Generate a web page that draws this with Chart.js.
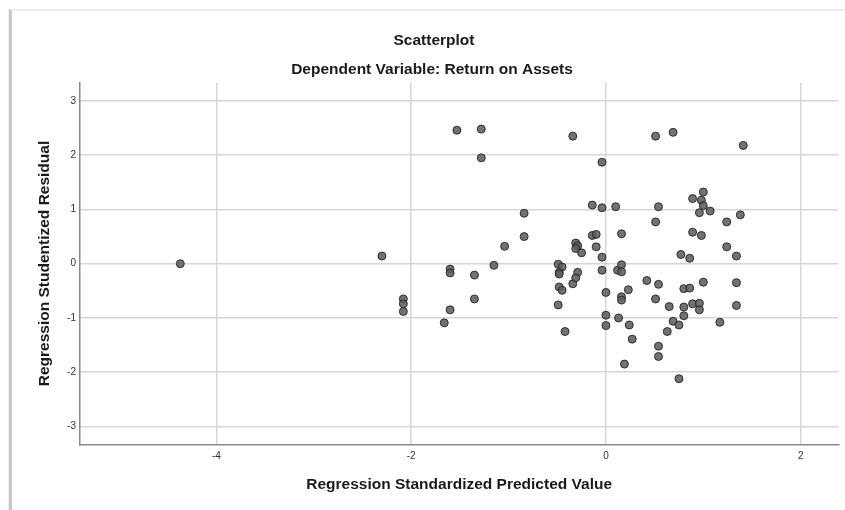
<!DOCTYPE html>
<html>
<head>
<meta charset="utf-8">
<script src="https://cdn.jsdelivr.net/npm/chart.js@4"></script>
<style>
  html, body { margin: 0; padding: 0; background: #ffffff; }
  #wrap { position: relative; width: 845px; height: 510px; overflow: hidden; background: #fff; }
  #frame { position: absolute; left: 9px; top: 9px; right: -5px; bottom: -5px;
           border-left: 3px solid #c8c8c8; border-top: 2px solid #ececec;
           box-shadow: -1px 0 1px rgba(0,0,0,0.06); pointer-events: none; }
  canvas { position: absolute; left: 0; top: 0; }
</style>
</head>
<body>
<div id="wrap">
  <canvas id="c" width="845" height="510"></canvas>
  <div id="frame"></div>
</div>
<script>
const chartTitle = "Scatterplot";
const chartSubtitle = "Dependent Variable: Return on Assets";
const xAxisTitle = "Regression Standardized Predicted Value";
const yAxisTitle = "Regression Studentized Residual";

const xTicks = [-4, -2, 0, 2];
const yTicks = [-3, -2, -1, 0, 1, 2, 3];

const predictedValue = [
  -4.37, -2.30, -2.08, -2.08, -2.08, -1.66, -1.60, -1.60, -1.60, -1.53,
  -1.35, -1.35, -1.28, -1.28, -1.15, -1.04, -0.84, -0.84, -0.49, -0.45,
  -0.48, -0.48, -0.48, -0.45, -0.49, -0.42, -0.34, -0.34, -0.31, -0.29,
  -0.31, -0.25, -0.29, -0.31, -0.14, -0.14, -0.10, -0.10, -0.04, -0.04,
  -0.04, -0.04, 0.00, 0.00, 0.00, 0.10, 0.12, 0.13, 0.16, 0.16,
  0.16, 0.16, 0.16, 0.19, 0.23, 0.24, 0.27, 0.42, 0.51, 0.51,
  0.51, 0.54, 0.54, 0.54, 0.54, 0.63, 0.65, 0.69, 0.69, 0.75,
  0.75, 0.77, 0.80, 0.80, 0.80, 0.86, 0.86, 0.89, 0.89, 0.89,
  0.96, 0.96, 0.96, 0.98, 0.98, 1.00, 1.00, 1.00, 1.07, 1.17,
  1.24, 1.24, 1.34, 1.34, 1.34, 1.38, 1.41
];
const studentizedResidual = [
  0.00, 0.14, -0.65, -0.74, -0.88, -1.09, -0.10, -0.17, -0.85, 2.46,
  -0.21, -0.65, 2.48, 1.95, -0.03, 0.32, 0.93, 0.50, -0.01, -0.06,
  -0.16, -0.19, -0.43, -0.49, -0.76, -1.25, 2.35, -0.37, 0.38, 0.33,
  0.28, 0.20, -0.16, -0.26, 1.08, 0.52, 0.54, 0.31, 1.87, 1.03,
  0.12, -0.12, -0.53, -0.95, -1.14, 1.05, -0.12, -1.00, 0.55, -0.02,
  -0.15, -0.61, -0.67, -1.85, -0.48, -1.13, -1.39, -0.31, 2.35, 0.77,
  -0.65, 1.05, -0.38, -1.52, -1.71, -1.25, -0.79, 2.42, -1.06, -1.13,
  -2.12, 0.17, -0.46, -0.80, -0.96, 0.10, -0.45, 1.20, 0.58, -0.74,
  0.94, -0.73, -0.85, 1.17, 0.52, 1.32, 1.07, -0.34, 0.97, -1.08,
  0.77, 0.31, 0.14, -0.35, -0.77, 0.90, 2.18
];

const points = predictedValue.map((x, i) => ({ x: x, y: studentizedResidual[i] }));

const FONT = "'Liberation Sans', Arial, sans-serif";

const titlePlugin = {
  id: 'spssTitles',
  afterDraw(chart) {
    const ctx = chart.ctx;
    ctx.save();
    ctx.fillStyle = '#1a1a1a';
    ctx.textAlign = 'center';
    ctx.textBaseline = 'middle';
    ctx.font = "bold 15.5px " + FONT;
    ctx.fillText(chartTitle, 434, 41);
    ctx.fillText(chartSubtitle, 432, 70);
    ctx.restore();
  }
};

new Chart(document.getElementById('c'), {
  type: 'scatter',
  data: {
    datasets: [{
      data: points,
      pointRadius: 4,
      pointHoverRadius: 4,
      pointBackgroundColor: 'rgba(95,95,95,0.88)',
      pointBorderColor: 'rgba(35,35,35,0.9)',
      pointBorderWidth: 1
    }]
  },
  options: {
    responsive: false,
    animation: false,
    events: [],
    layout: { padding: { left: 0, top: 82.7, right: 6.7, bottom: 0 } },
    plugins: { legend: { display: false }, tooltip: { enabled: false }, title: { display: false } },
    scales: {
      x: {
        type: 'linear',
        min: -5.40,
        max: 2.386,
        afterBuildTicks: s => { s.ticks = xTicks.map(v => ({ value: v })); },
        afterFit: s => { s.height = 65.7; },
        grid: { color: '#d6d6d6', lineWidth: 1.5, drawTicks: false },
        border: { display: true, color: '#8a8a8a', width: 1.5 },
        ticks: { padding: 6, color: '#333', font: { family: FONT, size: 10 } },
        title: { display: true, text: xAxisTitle, color: '#1a1a1a',
                 font: { family: FONT, size: 15.5, weight: 'bold' }, padding: { top: 0, bottom: 16 } }
      },
      y: {
        type: 'linear',
        min: -3.328,
        max: 3.335,
        afterBuildTicks: s => { s.ticks = yTicks.map(v => ({ value: v })); },
        afterFit: s => { s.width = 80; },
        grid: { color: '#d6d6d6', lineWidth: 1.5, drawTicks: false },
        border: { display: true, color: '#8a8a8a', width: 1.5 },
        ticks: { padding: 4, color: '#333', font: { family: FONT, size: 10 } },
        title: { display: true, text: yAxisTitle, color: '#1a1a1a',
                 font: { family: FONT, size: 15.5, weight: 'bold' }, padding: { top: 35, bottom: 0 } }
      }
    }
  },
  plugins: [titlePlugin]
});
</script>
</body>
</html>
